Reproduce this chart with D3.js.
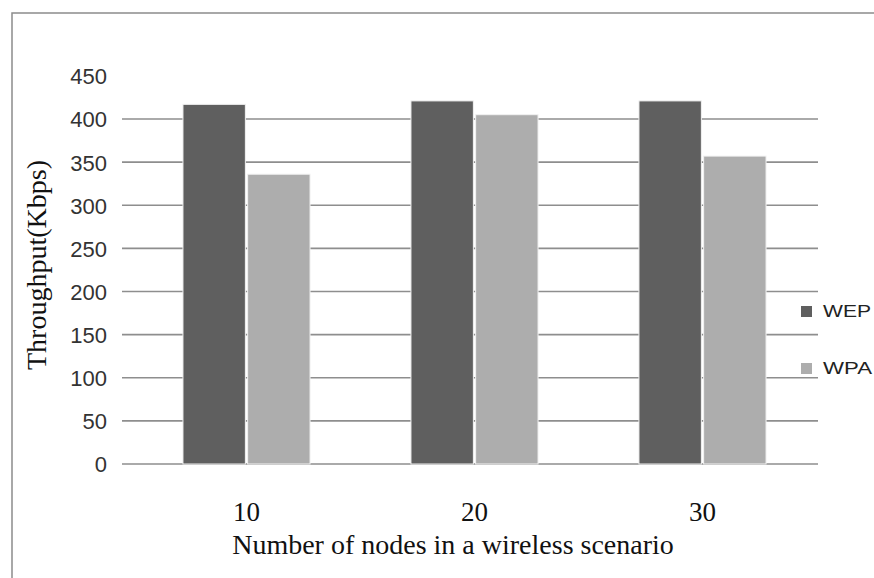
<!DOCTYPE html>
<html>
<head>
<meta charset="utf-8">
<script src="https://cdn.jsdelivr.net/npm/d3@7"></script>
<style>
  html, body { margin: 0; padding: 0; background: #fff; }
  svg { display: block; }
</style>
</head>
<body>
<svg id="chart" width="874" height="578"></svg>
<script>
const categories = ["10", "20", "30"];
const seriesNames = ["WEP", "WPA"];
const wepValues = [417, 421, 421];
const wpaValues = [336, 405, 357];
const yTicks = [0, 50, 100, 150, 200, 250, 300, 350, 400, 450];
const gridTicks = [0, 50, 100, 150, 200, 250, 300, 350, 400];
const colors = ["#5f5f5f", "#adadad"];

const data = categories.map((c, i) => ({ cat: c, values: [wepValues[i], wpaValues[i]] }));

const svg = d3.select("#chart");

// outer frame
svg.append("rect")
  .attr("x", 12).attr("y", 13)
  .attr("width", 880).attr("height", 600)
  .attr("fill", "none").attr("stroke", "#8c8c8c").attr("stroke-width", 1.5);

const y = d3.scaleLinear().domain([0, 450]).range([464, 75.875]);
const x = d3.scaleBand().domain(categories).range([132.5, 816.5]).padding(0);
const xInner = d3.scaleBand().domain(seriesNames).range([0, x.bandwidth()])
  .paddingInner(0.035).paddingOuter(0.78);

// gridlines
svg.append("g").selectAll("line").data(gridTicks).join("line")
  .attr("x1", 122).attr("x2", 818)
  .attr("y1", d => y(d)).attr("y2", d => y(d))
  .attr("stroke", "#8e8e8e").attr("stroke-width", 1.6);

// bars
const groups = svg.append("g").selectAll("g").data(data).join("g")
  .attr("transform", d => `translate(${x(d.cat)},0)`);
groups.selectAll("rect").data(d => d.values.map((v, i) => ({ key: seriesNames[i], v, i })))
  .join("rect")
  .attr("x", d => xInner(d.key))
  .attr("width", xInner.bandwidth())
  .attr("y", d => y(d.v))
  .attr("height", d => y(0) - y(d.v))
  .attr("fill", d => colors[d.i])
  .attr("stroke", "#f2f2f2").attr("stroke-width", 1);

// y axis labels
const yAxis = d3.axisLeft(y).tickValues(yTicks).tickSize(0).tickPadding(0);
const gy = svg.append("g").attr("transform", "translate(107,0)").call(yAxis);
gy.select(".domain").remove();
gy.selectAll("text")
  .attr("font-family", "'Liberation Sans', Arial, sans-serif")
  .attr("font-size", 22).attr("fill", "#333")
  .attr("dy", "0.36em");

// x axis labels
const xAxis = d3.axisBottom(x).tickSize(0).tickPadding(0);
const gx = svg.append("g").attr("transform", "translate(0,502)").call(xAxis);
gx.select(".domain").remove();
gx.selectAll("text")
  .attr("font-family", "'Liberation Serif', 'Times New Roman', serif")
  .attr("font-size", 27).attr("fill", "#111")
  .attr("dy", "0.71em");

// axis titles
svg.append("text")
  .attr("x", 453).attr("y", 554)
  .attr("text-anchor", "middle")
  .attr("font-family", "'Liberation Serif', 'Times New Roman', serif")
  .attr("font-size", 28).attr("fill", "#111")
  .text("Number of nodes in a wireless scenario");

svg.append("text")
  .attr("transform", "translate(46,265) rotate(-90)")
  .attr("text-anchor", "middle")
  .attr("font-family", "'Liberation Serif', 'Times New Roman', serif")
  .attr("font-size", 28).attr("fill", "#111")
  .text("Throughput(Kbps)");

// legend
const legend = svg.append("g").selectAll("g").data(seriesNames).join("g")
  .attr("transform", (d, i) => `translate(801,${306 + i * 57})`);
legend.append("rect").attr("width", 11).attr("height", 11)
  .attr("fill", (d, i) => colors[i]);
legend.append("text")
  .attr("x", 22).attr("y", 11)
  .attr("font-family", "'Liberation Sans', Arial, sans-serif")
  .attr("font-size", 17).attr("fill", "#222")
  .attr("textLength", (d, i) => i === 0 ? 48 : 49)
  .attr("lengthAdjust", "spacingAndGlyphs")
  .text(d => d);
</script>
</body>
</html>
